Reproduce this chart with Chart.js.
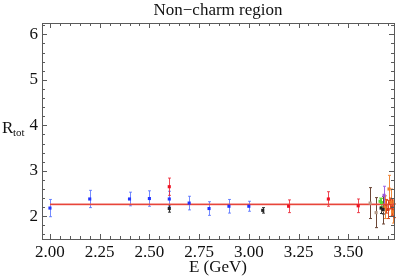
<!DOCTYPE html>
<html>
<head>
<meta charset="utf-8">
<script src="https://cdn.jsdelivr.net/npm/chart.js@4/dist/chart.umd.min.js"></script>
<style>
  html, body { margin: 0; padding: 0; background: #fff; }
  #wrap { width: 399px; height: 278px; }
</style>
</head>
<body>
<div id="wrap"><canvas id="c" width="399" height="278"></canvas></div>
<script>
'use strict';

/* ── data ── */
const xTicks = [2.00, 2.25, 2.50, 2.75, 3.00, 3.25, 3.50];
const yTicks = [2, 3, 4, 5, 6];

const blueE   = [2.00, 2.20, 2.40, 2.50, 2.60, 2.70, 2.80, 2.90, 3.00];
const blueR   = [2.18, 2.38, 2.38, 2.39, 2.38, 2.29, 2.17, 2.22, 2.22];
const blueErr = [0.19, 0.19, 0.15, 0.17, 0.17, 0.15, 0.15, 0.15, 0.11];

const redE   = [2.60, 3.20, 3.40, 3.55];
const redR   = [2.65, 2.22, 2.38, 2.23];
const redErr = [0.19, 0.14, 0.16, 0.15];

const blackE   = [2.60, 3.07, 3.665, 3.675];
const blackR   = [2.17, 2.13, 2.18, 2.15];
const blackErr = [0.08, 0.06, 0.12, 0.10];

const brownE   = [3.61, 3.64, 3.675];
const brownR   = [2.29, 2.08, 2.13];
const brownErr = [0.34, 0.33, 0.30];

const greenE   = [3.660, 3.667];
const greenR   = [2.33, 2.30];
const greenErr = [0.07, 0.09];

const purpleE   = [3.68];
const purpleR   = [2.46];
const purpleErr = [0.20];

const orangeE   = [3.685, 3.705, 3.715, 3.725];
const orangeR   = [2.20, 2.60, 2.30, 2.10];
const orangeErr = [0.25, 0.30, 0.30, 0.25];

const rorE   = [3.690, 3.700, 3.710, 3.720, 3.728];
const rorR   = [2.22, 2.15, 2.28, 2.20, 2.12];
const rorErr = [0.15, 0.20, 0.12, 0.18, 0.15];

const fitE    = [2.00, 3.73];
const fitR    = 2.26;
const fitBand = 0.03;

/* ── helpers ── */
const pts = (xs, ys) => xs.map((x, i) => ({ x: x, y: ys[i] }));

function series(label, xs, ys, errs, marker, bar) {
  return {
    label, type: 'scatter',
    data: pts(xs, ys),
    err: errs, barColor: bar,
    pointStyle: 'rect', pointRadius: 2.2,
    backgroundColor: marker, borderColor: marker, borderWidth: 0,
    order: 1
  };
}

/* ── frame + inward ticks + error bars + y title ── */
const framePlugin = {
  id: 'frame',
  beforeDatasetsDraw(chart) {
    const { ctx, scales: { x, y } } = chart;
    ctx.save();
    ctx.lineWidth = 1;
    chart.data.datasets.forEach(ds => {
      if (!ds.err) return;
      ctx.strokeStyle = ds.barColor;
      ds.data.forEach((p, i) => {
        const px = Math.round(x.getPixelForValue(p.x)) + 0.5;
        const y0 = y.getPixelForValue(p.y - ds.err[i]);
        const y1 = y.getPixelForValue(p.y + ds.err[i]);
        ctx.beginPath();
        ctx.moveTo(px, y0); ctx.lineTo(px, y1);
        ctx.moveTo(px - 1.5, y0); ctx.lineTo(px + 1.5, y0);
        ctx.moveTo(px - 1.5, y1); ctx.lineTo(px + 1.5, y1);
        ctx.stroke();
      });
    });
    ctx.restore();
  },
  afterDraw(chart) {
    const { ctx, chartArea: a, scales: { x, y } } = chart;
    ctx.save();
    ctx.strokeStyle = '#5a5a5a';
    ctx.lineWidth = 1;
    ctx.strokeRect(Math.round(a.left) + 0.5, Math.round(a.top) + 0.5,
                   Math.round(a.right - a.left), Math.round(a.bottom - a.top));
    ctx.beginPath();
    // x ticks, minor every 0.05
    for (let k = 0; ; k++) {
      const v = 1.95 + k * 0.05;
      if (v > x.max) break;
      if (v < x.min) continue;
      const px = Math.round(x.getPixelForValue(v)) + 0.5;
      const major = Math.abs((v - 2) / 0.25 - Math.round((v - 2) / 0.25)) < 1e-6;
      const len = major ? 5 : 3;
      ctx.moveTo(px, a.bottom); ctx.lineTo(px, a.bottom - len);
      ctx.moveTo(px, a.top); ctx.lineTo(px, a.top + len);
    }
    // y ticks, minor every 0.2
    for (let k = 0; ; k++) {
      const v = 1.6 + k * 0.2;
      if (v > y.max) break;
      if (v < y.min) continue;
      const py = Math.round(y.getPixelForValue(v)) + 0.5;
      const major = Math.abs(v - Math.round(v)) < 1e-6;
      const len = major ? 5 : 3;
      ctx.moveTo(a.left, py); ctx.lineTo(a.left + len, py);
      ctx.moveTo(a.right, py); ctx.lineTo(a.right - len, py);
    }
    ctx.stroke();

    // y title R_tot
    ctx.fillStyle = '#111';
    ctx.textBaseline = 'alphabetic';
    ctx.textAlign = 'left';
    ctx.font = '17px "Liberation Serif"';
    ctx.fillText('R', 2, 133);
    ctx.font = '11px "Liberation Serif"';
    ctx.fillText('tot', 13, 136);
    ctx.restore();
  }
};

const serif = '"Liberation Serif", "Times New Roman", serif';

new Chart(document.getElementById('c'), {
  data: {
    datasets: [
      {
        label: 'fit+', type: 'line', data: pts(fitE, fitE.map(() => fitR + fitBand)),
        borderWidth: 0, pointRadius: 0, fill: '+1',
        backgroundColor: 'rgba(235,110,100,0.35)', order: 3
      },
      {
        label: 'fit-', type: 'line', data: pts(fitE, fitE.map(() => fitR - fitBand)),
        borderWidth: 0, pointRadius: 0, fill: false, order: 3
      },
      {
        label: 'fit', type: 'line', data: pts(fitE, fitE.map(() => fitR)),
        borderColor: '#e8453a', borderWidth: 1.2, pointRadius: 0, fill: false, order: 2
      },
      series('blue', blueE, blueR, blueErr, '#2233ff', 'rgba(70,100,255,0.75)'),
      series('red', redE, redR, redErr, '#ee1122', 'rgba(235,30,45,0.8)'),
      series('black', blackE, blackR, blackErr, '#222', '#333'),
      series('brown', brownE, brownR, brownErr, '#b59a88', '#6b4636'),
      series('green', greenE, greenR, greenErr, '#55dd33', '#66e040'),
      series('purple', purpleE, purpleR, purpleErr, '#9955dd', '#9f66e6'),
      series('orange', orangeE, orangeR, orangeErr, '#f07a2a', '#f28a3a'),
      series('redorange', rorE, rorR, rorErr, '#d83a1a', '#dd4a22')
    ]
  },
  options: {
    responsive: false,
    animation: false,
    devicePixelRatio: 1,
    layout: { padding: { top: 23, right: 5, left: 0, bottom: 0 } },
    plugins: {
      legend: { display: false },
      tooltip: { enabled: false },
      title: { display: false }
    },
    scales: {
      x: {
        type: 'linear', min: 1.96, max: 3.73,
        grid: { display: false, drawTicks: false },
        border: { display: false },
        afterBuildTicks: s => { s.ticks = xTicks.map(v => ({ value: v })); },
        afterFit: s => { s.height = 39; },
        ticks: {
          color: '#111', padding: 3, maxRotation: 0, autoSkip: false,
          font: { family: serif, size: 17 },
          callback: v => Number(v).toFixed(2)
        },
        title: {
          display: true, text: 'E (GeV)', color: '#111',
          font: { family: serif, size: 17 }, padding: { top: 0, bottom: 0 }
        }
      },
      y: {
        type: 'linear', min: 1.5, max: 6.25,
        grid: { display: false, drawTicks: false },
        border: { display: false },
        afterBuildTicks: s => { s.ticks = yTicks.map(v => ({ value: v })); },
        afterFit: s => { s.width = 42; },
        ticks: {
          color: '#111', padding: 4,
          font: { family: serif, size: 17 }
        }
      }
    }
  },
  plugins: [framePlugin, {
    id: 'topTitle',
    afterDraw(chart) {
      const { ctx, chartArea: a } = chart;
      ctx.save();
      ctx.fillStyle = '#111';
      ctx.font = '17px ' + serif;
      ctx.textAlign = 'center';
      ctx.textBaseline = 'alphabetic';
      ctx.fillText('Non\u2212charm region', (a.left + a.right) / 2, 15);
      ctx.restore();
    }
  }]
});
</script>
</body>
</html>
